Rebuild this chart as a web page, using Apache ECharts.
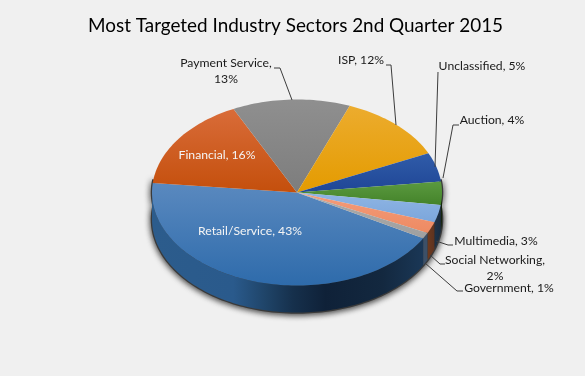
<!DOCTYPE html>
<html><head><meta charset="utf-8">
<style>html,body{margin:0;padding:0;background:#f0f0f0}#c{width:585px;height:376px}</style>
<script src="https://cdn.jsdelivr.net/npm/echarts@6/dist/echarts.min.js"></script>
</head><body><div id="c"></div>
<script>
const categories = ['Retail/Service','Financial','Payment Service','ISP','Unclassified','Auction','Multimedia','Social Networking','Government'];
const values = [43,16,13,12,5,4,3,2,1];
const titleText = 'Most Targeted Industry Sectors 2nd Quarter 2015';

// layout & style
const CX=297, CY=192.5, RX=145, RY=93, DEPTH=27, START=29.5;
const topColors = [['#5a89bf','#2e6bab'],['#d96c39','#c44f0c'],['#8f8f8f','#7d7d7d'],['#ecac2e','#e49b00'],['#305ca9','#1f4696'],['#5b9a40','#44832a'],['#8fb5e4','#7ba6db'],['#f39c7b','#ee8a62'],['#aaaaaa','#a0a0a0']];
const sideStops = [
  [[0,'#2c5c8c'],[0.3,'#2a5a8c'],[0.42,'#1f4468'],[0.52,'#16304c'],[0.64,'#0f2138'],[0.85,'#13283f'],[1,'#1a3756']],
  [[0,'#6a3010'],[1,'#6a3010']],[[0,'#444'],[1,'#444']],[[0,'#6a4a00'],[1,'#6a4a00']],[[0,'#14284f'],[1,'#14284f']],
  [[0,'#101c0a'],[1,'#16280e']],[[0,'#1f3348'],[1,'#1a2c40']],[[0,'#6e3a1e'],[1,'#5e3320']],[[0,'#3c5068'],[1,'#3c5068']]
];
const labelLayout = [
  {x:250,y:231,white:true},{x:217,y:155,white:true},
  {x:226,y:71,line:[[292,100],[280,68],[274,68]],wrap:true},
  {x:361,y:60,line:[[396,125],[391,65],[386,65]]},
  {x:482,y:66,line:[[435,167],[438,72]]},
  {x:492,y:120,line:[[443,178],[453,125],[459,125]]},
  {x:496,y:241,line:[[436,241],[448,245],[453,245]]},
  {x:495,y:268,line:[[430,255],[440,264],[445,264]],wrap:true},
  {x:509,y:288,line:[[425,263],[457,291],[463,291]]}
];
const total = values.reduce((a,b)=>a+b,0);
const cum=[0]; values.forEach(v=>cum.push(cum[cum.length-1]+v));
const ang = i => START + cum[i]/total*360;
const pt = (deg,dy=0)=>{const r=deg*Math.PI/180;return [CX+RX*Math.cos(r),CY+RY*Math.sin(r)+dy];};
function arc(a0,a1,dy){const pts=[];const n=Math.max(2,Math.ceil((a1-a0)/1.5));for(let k=0;k<=n;k++)pts.push(pt(a0+(a1-a0)*k/n,dy));return pts;}
const LG = echarts.graphic.LinearGradient;

function renderSide(p,api){
  const i=p.dataIndex; const a0=ang(i), a1=ang(i+1); const kids=[];
  for(const [lo,hi] of [[0,180],[360,540]]){
    const s=Math.max(a0,lo), e=Math.min(a1,hi);
    if(e<=s) continue;
    const top=arc(s,e,0), bot=arc(s,e,DEPTH).reverse();
    const xs=top.map(q=>q[0]); const x0=Math.min(...xs), x1=Math.max(...xs);
    kids.push({type:'polygon',shape:{points:top.concat(bot)},
      style:{fill:new LG(x0,0,x1,0,sideStops[i].map(c=>({offset:c[0],color:c[1]})),true)}});
  }
  return {type:'group',children:kids};
}
function renderShadow(p,api){
  const pts=arc(-8,188,0).concat(arc(-8,188,DEPTH).reverse());
  return {type:'polygon',shape:{points:pts},style:{fill:'#2a2a2a',stroke:'#3a3a3a',lineWidth:2.5,shadowBlur:6,shadowColor:'rgba(0,0,0,0.8)',shadowOffsetY:1}};
}
function renderTop(p,api){
  const i=p.dataIndex; const a0=ang(i),a1=ang(i+1);
  const c=topColors[i];
  return {type:'polygon',shape:{points:[[CX,CY]].concat(arc(a0,a1,0))},
    style:{fill:new LG(0,0,0,1,[{offset:0,color:c[0]},{offset:1,color:c[1]}]),stroke:null}};
}
const font='Lato, Carlito, sans-serif';
function renderLabel(p,api){
  const i=p.dataIndex; const L=labelLayout[i]; const kids=[];
  if(L.line) kids.push({type:'polyline',shape:{points:L.line},style:{fill:null,stroke:'#3c3c3c',lineWidth:1}});
  const txt=L.wrap?categories[i]+',\n'+api.value(0)+'%':categories[i]+', '+api.value(0)+'%';
  kids.push({type:'text',x:L.x,y:L.y,style:{text:txt,font:'12.2px '+font,fill:L.white?'#f4f4f4':'#1a1a1a',align:'center',verticalAlign:'middle',lineHeight:16}});
  return {type:'group',children:kids};
}
const chart=echarts.init(document.getElementById('c'));
const data=values.map(v=>[v]);
const base={type:'custom',coordinateSystem:'none',silent:true,animation:false};
chart.setOption({
  backgroundColor:'#f0f0f0',animation:false,
  title:{text:titleText,left:83,top:11,textStyle:{fontFamily:font,fontSize:18.9,fontWeight:'normal',color:'#000'}},
  series:[
    Object.assign({},base,{data:[[1]],renderItem:renderShadow,z:1}),
    Object.assign({},base,{data:data,renderItem:renderSide,z:2}),
    Object.assign({},base,{data:data,renderItem:renderTop,z:3}),
    Object.assign({},base,{data:data,renderItem:renderLabel,z:4})
  ]
});
</script></body></html>
